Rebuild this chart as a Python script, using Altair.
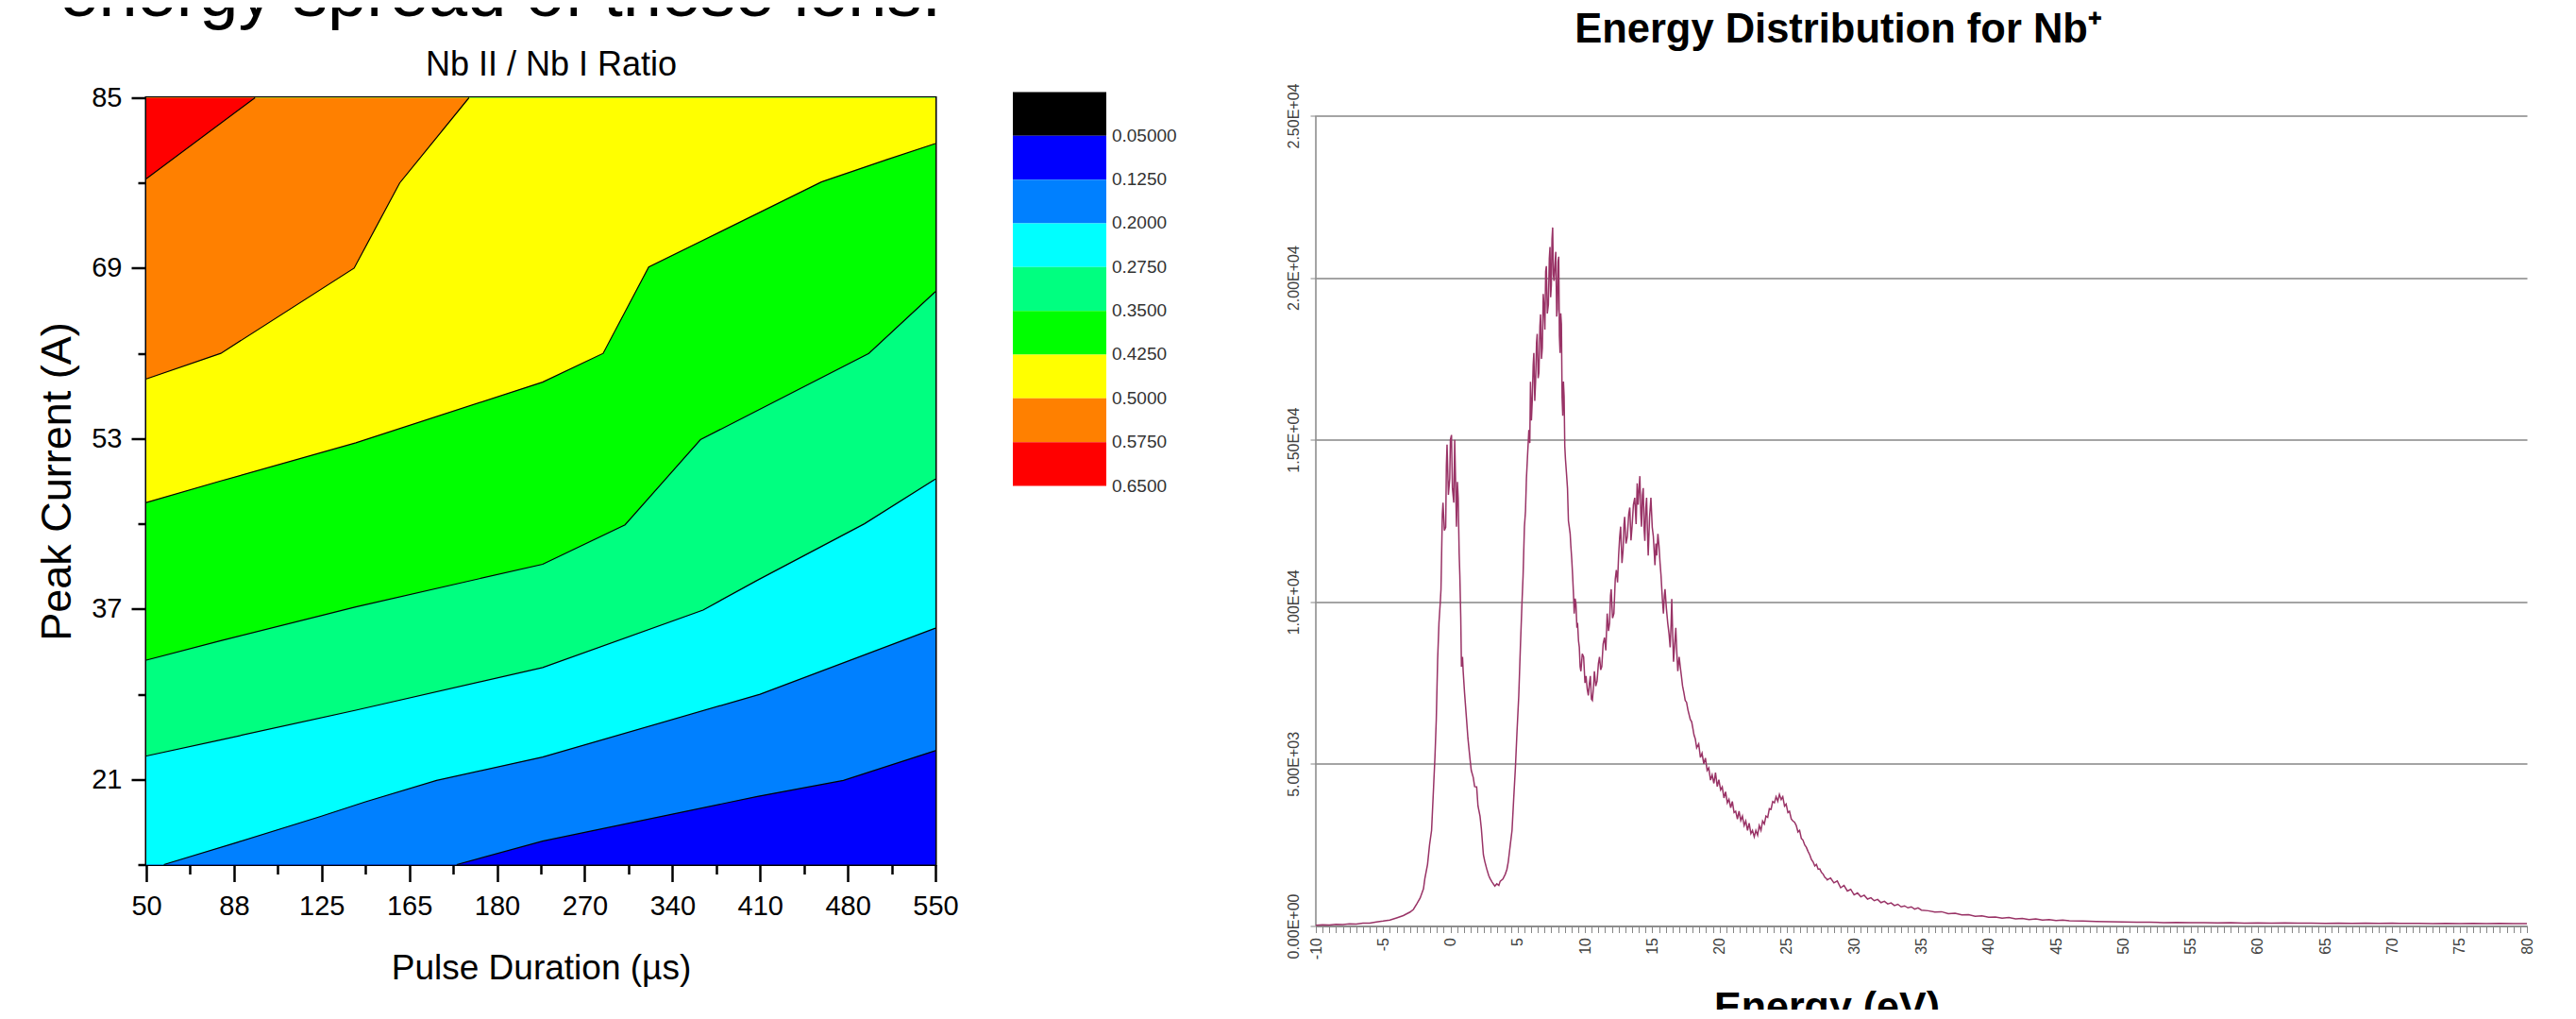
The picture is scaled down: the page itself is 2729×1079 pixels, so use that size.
import altair as alt
import pandas as pd

FONT = "Liberation Sans"

# ---------------- Left panel: Nb II / Nb I ratio contour map ----------------
pulse_labels = ["50", "88", "125", "165", "180", "270", "340", "410", "480", "550"]
pulse_positions = [0, 1, 2, 3, 4, 5, 6, 7, 8, 9]
current_ticks = [13, 21, 29, 37, 45, 53, 61, 69, 77, 85]
current_major = [21, 37, 53, 69, 85]

level_labels = ["0.05000", "0.1250", "0.2000", "0.2750", "0.3500",
                "0.4250", "0.5000", "0.5750", "0.6500"]
level_colors = ["#000000", "#0000FF", "#0080FF", "#00FFFF", "#00FF80",
                "#00FF00", "#FFFF00", "#FF8000", "#FF0000"]

# contour lines: position on the pulse axis (0 = 50 us ... 9 = 550 us), peak current (A)
c0125_pos = [3.54, 4.52, 6.97, 7.95, 9.0]
c0125_cur = [13.0, 15.2, 19.4, 20.9, 23.7]
c0200_pos = [0.20, 1.04, 1.98, 2.50, 3.31, 4.52, 7.00, 9.0]
c0200_cur = [13.0, 15.1, 17.5, 18.9, 20.9, 23.1, 29.0, 35.2]
c0275_pos = [0.0, 0.84, 2.39, 4.52, 6.35, 6.97, 8.19, 9.0]
c0275_cur = [23.2, 24.7, 27.5, 31.5, 36.9, 39.7, 45.0, 49.2]
c0350_pos = [0.0, 0.84, 2.39, 4.52, 5.46, 6.32, 8.24, 9.0]
c0350_cur = [32.2, 34.0, 37.2, 41.2, 44.9, 52.9, 61.0, 66.8]
c0425_pos = [0.0, 0.84, 2.39, 4.52, 5.21, 5.73, 7.70, 8.45, 9.0]
c0425_cur = [47.0, 49.0, 52.6, 58.3, 61.0, 69.1, 77.1, 79.2, 80.7]
c0500_pos = [0.0, 0.85, 2.37, 2.89, 3.68]
c0500_cur = [58.6, 61.0, 69.0, 77.0, 85.0]
c0575_pos = [0.0, 1.24]
c0575_cur = [77.4, 85.0]

# ---------------- Right panel: energy distribution for Nb+ ----------------
spec_rise = [(-10, 20), (-9.5, 35), (-9, 30), (-8.5, 50), (-8, 45), (-7.5, 65), (-7, 60),
             (-6.5, 90), (-6, 85), (-5.5, 125), (-5, 150), (-4.5, 185), (-4, 250), (-3.5, 320),
             (-3, 430), (-2.75, 510), (-2.5, 680), (-2.25, 860), (-2.0, 1150), (-1.9, 1460),
             (-1.7, 1900), (-1.55, 2500), (-1.4, 2950), (-1.25, 4290), (-1.15, 5200),
             (-1.05, 6370), (-0.95, 8200), (-0.85, 9350), (-0.75, 10000)]
spec_peak1 = [(-0.7, 10390), (-0.6, 12700), (-0.55, 13060), (-0.45, 12200), (-0.35, 12300),
              (-0.3, 14200), (-0.25, 14850), (-0.15, 13300), (-0.05, 13800), (0.0, 15000),
              (0.08, 15150), (0.15, 13500), (0.25, 13060), (0.32, 15000), (0.38, 13800),
              (0.45, 12320), (0.52, 13700), (0.58, 13200), (0.65, 11500), (0.7, 10830),
              (0.77, 9500), (0.82, 8000), (0.9, 8300), (0.95, 7850), (1.05, 7200), (1.2, 6370),
              (1.3, 5800), (1.45, 5180), (1.55, 4800), (1.7, 4580), (1.8, 4300), (1.95, 4290),
              (2.05, 3700), (2.2, 3390), (2.3, 3000), (2.45, 2200), (2.55, 2000), (2.7, 1760),
              (2.85, 1550), (2.95, 1460), (3.1, 1350), (3.3, 1230), (3.45, 1300), (3.6, 1250),
              (3.7, 1380), (3.9, 1450), (4.08, 1600), (4.2, 1750), (4.3, 1980), (4.45, 2500)]
spec_peak2 = [(4.58, 2950), (4.7, 3900), (4.83, 4880), (4.95, 6000), (5.08, 7110), (5.2, 8600),
              (5.33, 10090), (5.4, 10800), (5.5, 12320), (5.58, 12800), (5.65, 13810),
              (5.72, 14400), (5.83, 15300), (5.9, 14900), (5.95, 16790), (6.02, 15600),
              (6.08, 16190), (6.15, 17300), (6.2, 17680), (6.27, 16200), (6.33, 16790),
              (6.4, 18000), (6.45, 18270), (6.52, 16900), (6.58, 17080), (6.65, 18500),
              (6.7, 18870), (6.77, 17500), (6.83, 17830), (6.9, 19500), (6.95, 19170),
              (7.02, 18400), (7.08, 20200), (7.13, 20360), (7.2, 18900), (7.28, 19170),
              (7.35, 20600), (7.4, 20950), (7.45, 19400), (7.5, 19760), (7.55, 21200),
              (7.6, 21550), (7.65, 20100), (7.7, 19900), (7.77, 20400), (7.83, 20800),
              (7.9, 18800), (7.95, 19020), (8.0, 20500), (8.05, 20650), (8.1, 18200),
              (8.15, 17680), (8.2, 18900), (8.25, 18570), (8.3, 16300), (8.35, 15740),
              (8.4, 16800), (8.45, 16340), (8.5, 14800), (8.55, 14400), (8.62, 14000),
              (8.7, 13510), (8.77, 12500), (8.83, 12320), (8.9, 12100), (8.95, 11730),
              (9.02, 11300), (9.08, 10830), (9.15, 10200), (9.2, 9640), (9.27, 10100),
              (9.33, 9940), (9.4, 9200), (9.45, 9350), (9.52, 8800), (9.58, 8600),
              (9.64, 8000), (9.7, 7860), (9.8, 8400), (9.9, 8300), (10.0, 7500)]
spec_peak3 = [(10.08, 7710), (10.17, 7300), (10.25, 7110), (10.33, 7500), (10.4, 7710),
              (10.48, 7000), (10.55, 6960), (10.62, 7300), (10.7, 7860), (10.8, 7400),
              (10.9, 7560), (11.0, 8100), (11.08, 8300), (11.17, 7900), (11.25, 8000),
              (11.35, 8700), (11.45, 8900), (11.55, 8500), (11.65, 9640), (11.75, 9100),
              (11.83, 9350), (11.9, 10200), (11.95, 10390), (12.05, 9500), (12.15, 9640),
              (12.25, 10700), (12.33, 10980), (12.42, 10600), (12.5, 11430), (12.58, 12000),
              (12.65, 12320), (12.75, 11200), (12.83, 11580), (12.9, 12400), (12.95, 12620),
              (13.05, 11800), (13.15, 12020), (13.25, 12700), (13.33, 12910), (13.42, 11900),
              (13.5, 12320), (13.6, 13000), (13.7, 13210), (13.8, 12400), (13.88, 13660),
              (13.95, 13000), (14.02, 13500), (14.08, 13880), (14.15, 12700), (14.2, 12320),
              (14.27, 13300), (14.33, 13510), (14.4, 12200), (14.45, 11880), (14.52, 12900),
              (14.58, 13210), (14.65, 12100), (14.7, 11430), (14.8, 12600), (14.9, 13210),
              (15.0, 12300), (15.08, 12020), (15.15, 11500), (15.2, 11130), (15.27, 11800),
              (15.33, 11430), (15.42, 12100), (15.5, 11730), (15.58, 11200), (15.65, 10830),
              (15.75, 10100), (15.83, 9640), (15.9, 10200), (15.95, 10390), (16.05, 9800),
              (16.15, 9350), (16.25, 9000), (16.33, 8600), (16.4, 9300), (16.45, 10090),
              (16.52, 9000), (16.58, 8150), (16.67, 8700), (16.75, 9200), (16.83, 8400),
              (16.9, 7860), (17.0, 8300), (17.08, 8000), (17.17, 7700), (17.25, 7410),
              (17.35, 7200), (17.45, 6960), (17.55, 6900), (17.65, 6670), (17.75, 6500),
              (17.83, 6370), (17.93, 6300), (18.03, 6070), (18.1, 5900), (18.2, 5770),
              (18.3, 5500), (18.45, 5620), (18.58, 5200), (18.7, 5330), (18.83, 5000),
              (18.95, 5180), (19.08, 4800), (19.2, 4880), (19.33, 4500), (19.45, 4660),
              (19.58, 4400), (19.7, 4730), (19.83, 4300), (19.95, 4510)]
spec_peak4 = [(20.08, 4200), (20.2, 4290), (20.33, 3950), (20.45, 4140), (20.58, 3800),
              (20.7, 3910), (20.83, 3650), (20.95, 3840), (21.08, 3500), (21.2, 3540),
              (21.33, 3300), (21.45, 3540), (21.58, 3250), (21.7, 3390), (21.83, 3100),
              (21.95, 3240), (22.08, 2950), (22.2, 3170), (22.33, 2850), (22.45, 2950),
              (22.58, 2750), (22.7, 2950), (22.83, 2800), (22.95, 3100), (23.08, 2950),
              (23.2, 3240), (23.33, 3150), (23.45, 3390), (23.58, 3350), (23.7, 3620),
              (23.83, 3600), (23.95, 3840), (24.08, 3800), (24.2, 3990), (24.33, 3850),
              (24.45, 4060), (24.58, 3900), (24.7, 3990), (24.83, 3700), (24.95, 3760),
              (25.08, 3500), (25.2, 3540), (25.33, 3300), (25.45, 3240), (25.58, 3200),
              (25.7, 3100), (25.83, 2900), (25.95, 2950), (26.08, 2700), (26.2, 2650),
              (26.33, 2500), (26.45, 2430), (26.58, 2300), (26.7, 2200), (26.83, 2050),
              (26.95, 1980), (27.08, 1850), (27.2, 1900), (27.33, 1750), (27.45, 1760),
              (27.58, 1650), (27.7, 1600), (27.83, 1500), (27.95, 1460)]
spec_tail = [(28.0, 1420), (28.25, 1480), (28.5, 1330), (28.75, 1390), (29.0, 1180),
             (29.25, 1250), (29.5, 1080), (29.75, 1130), (30.0, 960), (30.25, 1020),
             (30.5, 900), (30.75, 950), (31.0, 830), (31.25, 870), (31.5, 780), (31.75, 820),
             (32.0, 720), (32.25, 760), (32.5, 680), (32.75, 710), (33.0, 630), (33.25, 670),
             (33.5, 590), (33.75, 620), (34.0, 560), (34.25, 590), (34.5, 520), (34.75, 560),
             (35.0, 490), (35.5, 470), (36.0, 430), (36.5, 440), (37.0, 380), (37.5, 390),
             (38.0, 340), (38.5, 350), (39.0, 300), (39.5, 310), (40.0, 270), (40.5, 280),
             (41.0, 240), (41.5, 260), (42.0, 220), (42.5, 235), (43.0, 200), (43.5, 215),
             (44.0, 185), (44.5, 195), (45.0, 170), (45.5, 180), (46.0, 160), (47.0, 150),
             (48.0, 140), (49.0, 130), (50.0, 125), (51, 115), (52, 120), (53, 105), (54, 110),
             (55, 100), (56, 105), (57, 95), (58, 100), (59, 90), (60, 95), (61, 88), (62, 92),
             (63, 85), (64, 90), (65, 82), (66, 88), (67, 80), (68, 86), (69, 78), (70, 84),
             (71, 78), (72, 82), (73, 76), (74, 80), (75, 74), (76, 80), (77, 72), (78, 78),
             (79, 72), (80, 76)]

count_tick_values = [0, 5000, 10000, 15000, 20000, 25000]
count_tick_labels = ["0.00E+00", "5.00E+03", "1.00E+04", "1.50E+04", "2.00E+04", "2.50E+04"]
energy_label_values = [-10, -5, 0, 5, 10, 15, 20, 25, 30, 35, 40, 45, 50, 55, 60, 65, 70, 75, 80]
energy_labels = ["-10", "-5", "0", "5", "10", "15", "20", "25", "30", "35", "40", "45",
                 "50", "55", "60", "65", "70", "75", "80"]


def label_expr(values, labels):
    expr = "''"
    for v, lab in reversed(list(zip(values, labels))):
        expr = f"datum.value == {v} ? '{lab}' : ({expr})"
    return expr


# ---------------- build left panel ----------------
POS_MIN, POS_MAX = 0.0, 9.0
CUR_MIN, CUR_MAX = 13.0, 85.0

xs = alt.Scale(domain=[POS_MIN, POS_MAX], nice=False, zero=False)
ys = alt.Scale(domain=[CUR_MIN, CUR_MAX], nice=False, zero=False)

x_axis_left = alt.Axis(
    values=[i * 0.5 for i in range(19)],
    labelExpr=label_expr(pulse_positions, pulse_labels),
    tickSize={"condition": {"test": "datum.value % 1 == 0", "value": 18}, "value": 10},
    tickColor="black", tickWidth=2.5, domain=False, grid=False,
    labelFont=FONT, labelFontSize=29, labelColor="black", labelPadding=12,
    labelOverlap=False, labelFlush=False,
    title="Pulse Duration (µs)", titleFont=FONT, titleFontSize=37,
    titleFontWeight="normal", titleColor="black", titleBaseline="top", titleY=92,
)
y_axis_left = alt.Axis(
    values=current_ticks,
    labelExpr=label_expr(current_major, [str(v) for v in current_major]),
    tickSize={"condition": {"test": "(datum.value - 21) % 16 == 0", "value": 16}, "value": 9},
    tickColor="black", tickWidth=2.5, domain=False, grid=False,
    labelFont=FONT, labelFontSize=29, labelColor="black", labelPadding=10,
    labelOverlap=False, labelFlush=False,
    title="Peak Current (A)", titleFont=FONT, titleFontSize=45,
    titleFontWeight="normal", titleColor="black", titlePadding=13,
)


def enc(chart):
    return chart.encode(
        x=alt.X("pos:Q", scale=xs, axis=x_axis_left),
        y=alt.Y("cur:Q", scale=ys, axis=y_axis_left),
    )


base_df = pd.DataFrame({"pos": [POS_MIN], "pos2": [POS_MAX], "cur": [CUR_MIN], "cur2": [CUR_MAX]})
base = enc(alt.Chart(base_df).mark_rect(color=level_colors[1])).encode(x2="pos2:Q", y2="cur2:Q")

boundaries = [
    (c0125_pos, c0125_cur, level_colors[2]),
    (c0200_pos, c0200_cur, level_colors[3]),
    (c0275_pos, c0275_cur, level_colors[4]),
    (c0350_pos, c0350_cur, level_colors[5]),
    (c0425_pos, c0425_cur, level_colors[6]),
    (c0500_pos, c0500_cur, level_colors[7]),
    (c0575_pos, c0575_cur, level_colors[8]),
]
areas = []
line_rows = []
for k, (pos, cur, col) in enumerate(boundaries):
    p, c = list(pos), list(cur)
    if p[0] > POS_MIN:
        p, c = [POS_MIN] + p, [CUR_MIN] + c
    if p[-1] < POS_MAX:
        p, c = p + [POS_MAX], c + [CUR_MAX]
    adf = pd.DataFrame({"pos": p, "cur": c, "top": CUR_MAX})
    areas.append(enc(alt.Chart(adf).mark_area(color=col, opacity=1)).encode(y2="top:Q"))
    for a, b in zip(pos, cur):
        line_rows.append({"level": k, "pos": a, "cur": b})

lines = enc(alt.Chart(pd.DataFrame(line_rows)).mark_line(color="black", strokeWidth=1.2)).encode(
    detail="level:N")

left = alt.layer(base, *areas, lines).properties(
    width=836, height=812,
    view=alt.ViewBackground(stroke="black", strokeWidth=3),
    title=alt.TitleParams("Nb II / Nb I Ratio", font=FONT, fontSize=36,
                          fontWeight="normal", color="black", anchor="middle", frame="group",
                          dx=11, offset=2),
)

# ---------------- colour bar ----------------
cb_df = pd.DataFrame({"i": list(range(9)), "i1": list(range(1, 10)),
                      "color": level_colors, "label": level_labels})
cb_x = alt.Scale(domain=[0, 2.343], nice=False, zero=False)
cb_y = alt.Scale(domain=[0.13, 9], nice=False, zero=False, reverse=True)
cb_rect = alt.Chart(cb_df).mark_rect().encode(
    x=alt.X(datum=0, scale=cb_x, axis=None), x2=alt.X2(datum=1),
    y=alt.Y("i:Q", scale=cb_y, axis=None), y2="i1:Q",
    color=alt.Color("color:N", scale=None),
)
cb_text = alt.Chart(cb_df).mark_text(align="left", baseline="middle", font=FONT, fontSize=19,
                                     color="#333333").encode(
    x=alt.X(datum=1.06, scale=cb_x, axis=None),
    y=alt.Y("i1:Q", scale=cb_y, axis=None),
    text="label:N",
)
cbar = alt.layer(cb_rect, cb_text).properties(width=232, height=411)

# ---------------- build right panel ----------------
spectrum = spec_rise + spec_peak1 + spec_peak2 + spec_peak3 + spec_peak4 + spec_tail
spec_df = pd.DataFrame(spectrum, columns=["energy", "counts"])

GRAY = "#868686"
ex = alt.Scale(domain=[-10, 80], nice=False, zero=False)
ey = alt.Scale(domain=[0, 25554], nice=False, zero=False)
x_axis_right = alt.Axis(
    values=[-10 + 0.5 * k for k in range(181)],
    labelExpr=label_expr(energy_label_values, energy_labels),
    labelAngle=270, labelAlign="right", labelBaseline="middle",
    labelFont=FONT, labelFontSize=16, labelColor="#404040", labelPadding=5,
    labelOverlap=False, labelFlush=False,
    tickSize=7, tickColor=GRAY, tickWidth=1, domainColor=GRAY, domainWidth=1.5, grid=False,
    title="Energy (eV)", titleFont=FONT, titleFontSize=43, titleFontWeight="bold",
    titleColor="black", titleBaseline="top", titleX=541, titleY=65,
)
y_axis_right = alt.Axis(
    values=count_tick_values,
    labelExpr=label_expr(count_tick_values, count_tick_labels),
    labelAngle=270, labelAlign="center", labelBaseline="bottom",
    labelFont=FONT, labelFontSize=16, labelColor="#404040", labelPadding=10,
    labelOverlap=False, labelFlush=False,
    tickSize=6, tickColor=GRAY, domain=False,
    grid=True, gridColor=GRAY, gridWidth=1.5, title="",
)
spec_line = alt.Chart(spec_df).mark_line(color="#993366", strokeWidth=1.5).encode(
    x=alt.X("energy:Q", scale=ex, axis=x_axis_right),
    y=alt.Y("counts:Q", scale=ey, axis=y_axis_right),
)
axis_line_df = pd.DataFrame({"energy": [-10], "counts": [0], "counts_top": [25000]})
y_axis_line = alt.Chart(axis_line_df).mark_rule(color=GRAY, strokeWidth=1.5).encode(
    x=alt.X("energy:Q", scale=ex, axis=x_axis_right),
    y=alt.Y("counts:Q", scale=ey, axis=y_axis_right),
    y2="counts_top:Q",
)
right = alt.layer(y_axis_line, spec_line).properties(
    width=1283, height=877,
    title=alt.TitleParams("Energy Distribution for Nb⁺", font=FONT, fontSize=43.5,
                          fontWeight="bold", color="black", anchor="middle", frame="group",
                          dx=-88, offset=34),
)

chart = alt.hconcat(left, cbar, right, spacing=55).properties(
    title=alt.TitleParams("energy spread of these ions.", anchor="start", font=FONT,
                          fontSize=74, fontWeight="normal", color="black", dx=26, offset=-23.5),
    padding={"top": -50.5, "bottom": -21, "left": 29, "right": 0},
    background="white",
).configure_view(stroke="transparent")

chart.save("out.html", embed_options={"renderer": "svg", "actions": False})
